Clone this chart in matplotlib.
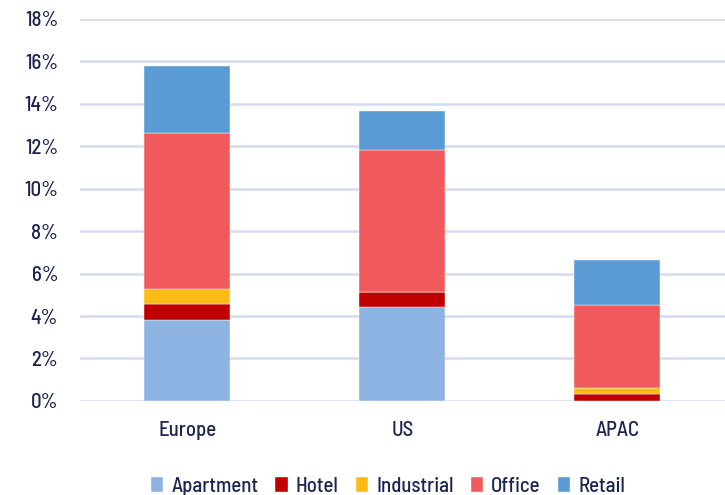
import matplotlib
matplotlib.use("Agg")
import matplotlib.pyplot as plt
import numpy as np
from matplotlib.ticker import FuncFormatter

INK, GRID = "#1c2550", "#d5dbf0"

regions = ["Europe", "US", "APAC"]
sectors = ["Apartment", "Hotel", "Industrial", "Office", "Retail"]
colors = ["#8db3e2", "#c00000", "#fdbb13", "#f05a5c", "#5b9bd5"]
apartment = [3.82, 4.43, 0.0]
hotel = [0.75, 0.71, 0.33]
industrial = [0.71, 0.0, 0.28]
office = [7.35, 6.69, 3.91]
retail = [3.16, 1.84, 2.12]
values = [apartment, hotel, industrial, office, retail]

plt.rcParams["font.family"] = ["Barlow Semi Condensed", "DejaVu Sans"]
plt.rcParams["font.weight"] = "medium"

fig = plt.figure(figsize=(7.25, 4.95), dpi=100)
ax = fig.add_axes([0.110, 0.190, 0.890, 0.772])

x = np.arange(len(regions))
bottom = np.zeros(len(regions))
for name, vals, col in zip(sectors, values, colors):
    ax.bar(x, vals, 0.4, bottom=bottom, color=col, label=name,
           edgecolor="white", linewidth=0.3, zorder=3)
    bottom += np.array(vals)

ax.set_xlim(-0.5, 2.5)
ax.set_ylim(0, 18)
ax.set_yticks(range(0, 19, 2))
ax.yaxis.set_major_formatter(FuncFormatter(lambda v, _: f"{v:.0f}%"))
ax.set_xticks(x)
ax.set_xticklabels(regions)
ax.grid(axis="y", color=GRID, linewidth=1.8, zorder=0)
for s in ax.spines.values():
    s.set_visible(False)
ax.tick_params(length=0, colors=INK, labelsize=15)
ax.tick_params(axis="y", pad=15.5)
ax.tick_params(axis="x", pad=14.5)

fig.legend(loc="center", bbox_to_anchor=(0.535, 0.017), ncol=5,
           frameon=False, fontsize=15, labelcolor=INK, handlelength=0.6,
           handleheight=0.75, handletextpad=0.4, columnspacing=0.8,
           borderpad=0)

fig.savefig("out.png", dpi=100)
